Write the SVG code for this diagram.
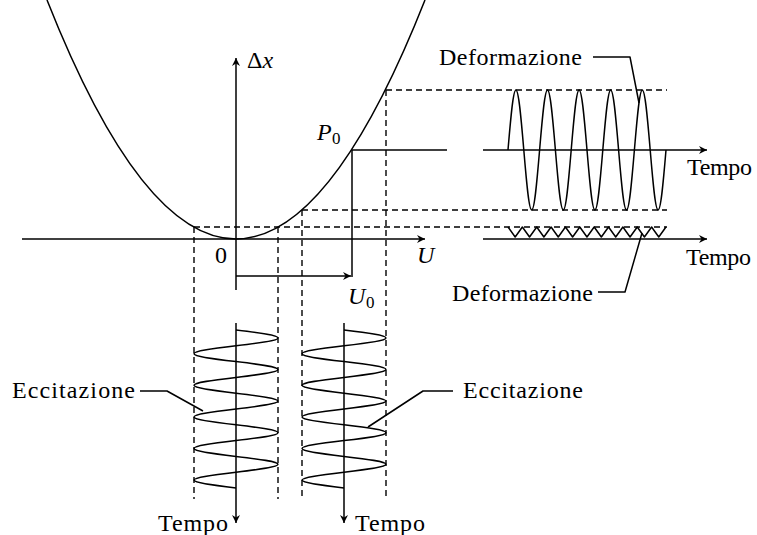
<svg xmlns="http://www.w3.org/2000/svg" xmlns:xlink="http://www.w3.org/1999/xlink" width="757" height="535" viewBox="0 0 757 535">
<style>
.ln{fill:none;stroke:#000;stroke-width:1.5;stroke-linecap:butt;stroke-linejoin:round}
.ds{fill:none;stroke:#000;stroke-width:1.4;stroke-dasharray:6 4}
.ar{marker-end:url(#ah)}
text{font-family:'Liberation Serif','Times New Roman','DejaVu Serif',serif;font-size:24px;fill:#000}
.it{font-style:italic}
.sub{font-size:17px}
</style>
<defs>
<marker id="ah" markerUnits="userSpaceOnUse" markerWidth="10" markerHeight="10" refX="0" refY="0" orient="auto" overflow="visible">
<path d="M0,0 L-8,-4 L-5.5,0 L-8,4 Z" fill="#000"/>
</marker>
<path id="exc" d="M236,330 C259.2,332.78 278,335.12 278,337.9 S259.2,343.02 236,345.8 S194,350.92 194,353.7 S212.8,358.82 236,361.6 S278,366.72 278,369.5 S259.2,374.62 236,377.4 S194,382.52 194,385.3 S212.8,390.42 236,393.2 S278,398.32 278,401.1 S259.2,406.22 236,409 S194,414.12 194,416.9 S212.8,422.02 236,424.8 S278,429.92 278,432.7 S259.2,437.82 236,440.6 S194,445.72 194,448.5 S212.8,453.62 236,456.4 S278,461.52 278,464.3 S259.2,469.42 236,472.2 S194,477.32 194,480.1 S212.8,485.22 236,488"/>
</defs>

<g id="dashed-guides">
<path class="ds" d="M194,227 H667"/>
<path class="ds" d="M302,210 H667"/>
<path class="ds" d="M386,90 H667"/>
<path class="ds" d="M194,227 V499"/>
<path class="ds" d="M278,227 V499"/>
<path class="ds" d="M302,210 V499"/>
<path class="ds" d="M386,90 V499"/>
</g>

<g id="curve">
<path class="ln" d="M47,0 Q236,478 425,0"/>
</g>

<g id="connectors">
<path class="ln ar" d="M22,239 H425"/>
<path class="ln ar" d="M236,290 V58"/>
<path class="ln" d="M352,150 V277"/>
<path class="ln ar" d="M236,276 H351"/>
<path class="ln" d="M352,150 H447"/>
<path class="ln ar" d="M483,150 H707"/>
<path class="ln ar" d="M483,239 H707"/>
<path class="ln ar" d="M236,323 V523"/>
<path class="ln ar" d="M344,323 V523"/>
<path class="ln" d="M593,57 H630 L639,103"/>
<path class="ln" d="M598,292 H625 L642,233"/>
<path class="ln" d="M140,391 H167 L203,411"/>
<path class="ln" d="M453,391 H423 L368,427"/>
</g>

<g id="deformazione-grande">
<path class="ln" d="M508,150 C510.78,116.9 513.12,90 515.9,90 S521.02,116.9 523.8,150 S528.92,210 531.7,210 S536.82,183.1 539.6,150 S544.72,90 547.5,90 S552.62,116.9 555.4,150 S560.52,210 563.3,210 S568.42,183.1 571.2,150 S576.32,90 579.1,90 S584.22,116.9 587,150 S592.12,210 594.9,210 S600.02,183.1 602.8,150 S607.92,90 610.7,90 S615.82,116.9 618.6,150 S623.72,210 626.5,210 S631.62,183.1 634.4,150 S639.52,90 642.3,90 S647.42,116.9 650.2,150 S655.32,210 658.1,210 S663.22,183.1 666,150"/>
<text x="439" y="65" textLength="143">Deformazione</text>
<text x="687" y="175" textLength="65">Tempo</text>
</g>

<g id="deformazione-piccola">
<polyline class="ln" points="508,227 515.18,237 522.36,227 529.54,237 536.72,227 543.9,237 551.08,227 558.26,237 565.44,227 572.62,237 579.8,227 586.98,237 594.16,227 601.34,237 608.52,227 615.7,237 622.88,227 630.06,237 637.24,227 644.42,237 651.6,227 658.78,237 665.96,227"/>
<text x="452" y="301" textLength="141">Deformazione</text>
<text x="686" y="265" textLength="65">Tempo</text>
</g>

<g id="eccitazione-sinistra">
<use xlink:href="#exc" class="ln"/>
<text x="12" y="398" textLength="123">Eccitazione</text>
<text x="158" y="531" textLength="70">Tempo</text>
</g>

<g id="eccitazione-destra">
<use xlink:href="#exc" class="ln" transform="translate(108,0)"/>
<text x="463" y="398" textLength="120">Eccitazione</text>
<text x="355" y="531" textLength="70">Tempo</text>
</g>

<g id="labels">
<text x="247" y="68">Δ<tspan class="it">x</tspan></text>
<text x="215" y="263">0</text>
<text x="417" y="263" class="it">U</text>
<text x="348" y="304" class="it">U</text>
<text x="366" y="308" class="sub">0</text>
<text x="317" y="140" class="it">P</text>
<text x="332" y="144" class="sub">0</text>
</g>
</svg>
